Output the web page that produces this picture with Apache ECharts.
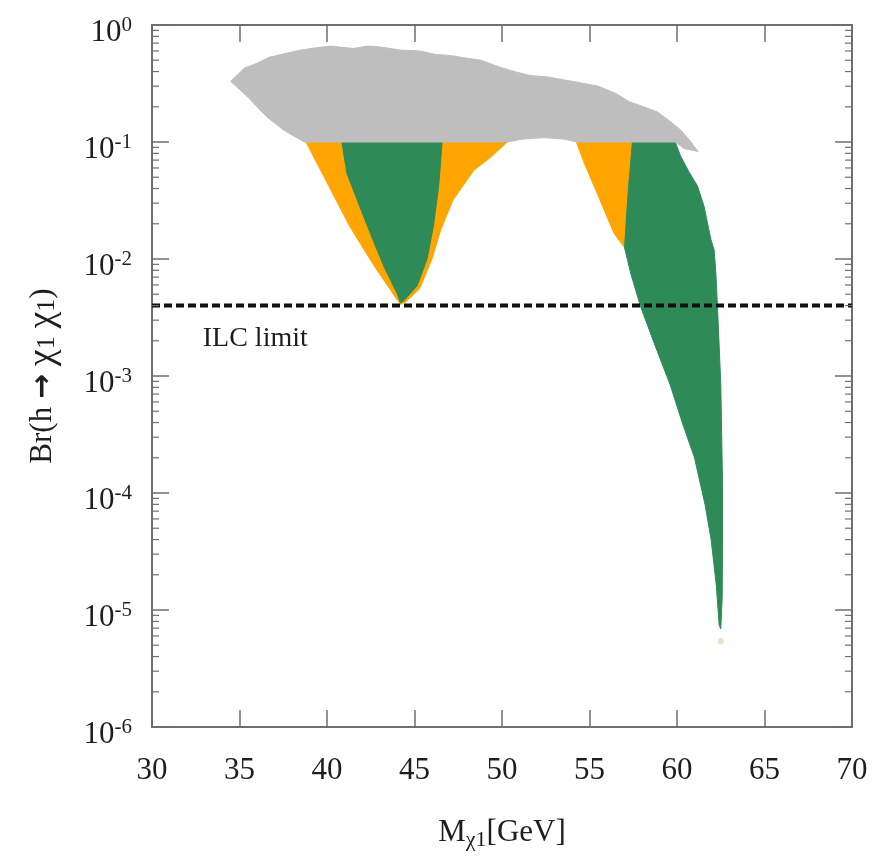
<!DOCTYPE html>
<html>
<head>
<meta charset="utf-8">
<script src="https://cdn.jsdelivr.net/npm/echarts@6/dist/echarts.min.js"></script>
<style>
  html, body { margin: 0; padding: 0; background: #fff; }
  #chart { width: 889px; height: 856px; }
</style>
</head>
<body>
<div id="chart"></div>
<script>
// Neutralino mass axis (GeV) and branching-ratio axis (log10 decades)
const massTicks = [30, 35, 40, 45, 50, 55, 60, 65, 70];
const brExponents = [-6, -5, -4, -3, -2, -1, 0];

// ILC sensitivity on Br(h -> chi1 chi1)
const ilcLimit = 4e-3;

// Outline of the grey (excluded) scan points: [M_chi1, Br]
const grayRegion = [
  [34.5, 0.33], [35.3, 0.43], [36.0, 0.47], [36.7, 0.53], [37.6, 0.57], [38.5, 0.61],
  [39.4, 0.64], [40.2, 0.66], [41.5, 0.63], [42.3, 0.66], [43.0, 0.65], [44.2, 0.61],
  [45.3, 0.60], [46.2, 0.56], [47.0, 0.55], [48.0, 0.52], [48.8, 0.50], [49.8, 0.44],
  [50.7, 0.40], [51.6, 0.37], [52.6, 0.36], [54.0, 0.33], [55.5, 0.30], [56.5, 0.26],
  [57.3, 0.22], [58.1, 0.20], [58.9, 0.18], [59.6, 0.15], [60.2, 0.127], [60.8, 0.10],
  [61.2, 0.083], [60.4, 0.088], [59.9, 0.1],
  [54.3, 0.1], [53.5, 0.106], [52.4, 0.109], [51.2, 0.106], [50.3, 0.1],
  [38.7, 0.1], [37.5, 0.127], [36.5, 0.167], [35.5, 0.24], [34.5, 0.33]
];

// Orange points around the Z-pole funnel
const orangeFunnelZ = [
  [38.8, 0.1], [50.3, 0.1], [49.4, 0.075], [48.4, 0.0575], [47.2, 0.032],
  [46.5, 0.0178], [46.0, 0.0100], [45.3, 0.0056], [44.5, 0.0043], [44.2, 0.0041],
  [44.0, 0.0045], [42.7, 0.0087], [41.3, 0.019], [40.0, 0.045], [38.8, 0.1]
];

// Green points inside the Z-pole funnel
const greenFunnelZ = [
  [40.85, 0.1], [46.58, 0.1], [46.38, 0.0417], [46.08, 0.019], [45.72, 0.0100],
  [45.15, 0.0059], [44.37, 0.00437], [44.2, 0.0042], [44.0, 0.0051], [43.24, 0.0087],
  [42.47, 0.0166], [41.71, 0.0324], [41.14, 0.0537], [40.85, 0.1]
];

// Orange points on the low side of the Higgs-pole funnel
const orangeFunnelH = [
  [54.25, 0.1], [57.45, 0.1], [57.2, 0.036], [57.0, 0.0125], [56.4, 0.0166],
  [55.44, 0.0363], [54.7, 0.066], [54.25, 0.1]
];

// Green points of the Higgs-pole funnel
const greenFunnelH = [
  [57.45, 0.1], [59.9, 0.1], [60.2, 0.076], [60.7, 0.055], [61.17, 0.042], [61.55, 0.028],
  [61.93, 0.0148], [62.12, 0.012], [62.22, 0.0076], [62.31, 0.0040], [62.5, 8.7e-4],
  [62.6, 1.23e-4], [62.6, 3.3e-5], [62.58, 1.23e-5], [62.5, 6.9e-6], [62.41, 7.4e-6],
  [62.25, 1.6e-5], [61.95, 4.0e-5], [61.6, 8.0e-5], [61.0, 2.0e-4], [60.3, 4.0e-4],
  [59.6, 8.5e-4], [58.7, 1.9e-3], [57.9, 4.0e-3], [57.35, 7.6e-3], [57.0, 0.0125],
  [57.2, 0.036], [57.45, 0.1]
];

// Isolated scan point below the funnel tip
const strayPoints = [[62.5, 5.4e-6]];

const SERIF = '"Liberation Serif", "DejaVu Serif", serif';
const AXIS_COLOR = '#6f6f6f';
const TEXT_COLOR = '#1e1e1e';

// log-decade minor ticks (2..9 x 10^k)
const minorTickValues = [];
for (let e = brExponents[0]; e < brExponents[brExponents.length - 1]; e++) {
  for (let m = 2; m <= 9; m++) minorTickValues.push(m * Math.pow(10, e));
}

function regionSeries(name, pts, color, z) {
  return {
    type: 'custom',
    name: name,
    xAxisIndex: 0,
    yAxisIndex: 0,
    data: pts,
    silent: true,
    animation: false,
    z: z,
    renderItem: function (params, api) {
      if (params.dataIndex !== 0) return null;
      return {
        type: 'polygon',
        shape: { points: pts.map(function (p) { return api.coord(p); }) },
        style: { fill: color, stroke: color, lineWidth: 1 }
      };
    }
  };
}

const chart = echarts.init(document.getElementById('chart'), null, { renderer: 'canvas' });

const yAxisBase = {
  type: 'log', logBase: 10,
  min: Math.pow(10, brExponents[0]), max: Math.pow(10, brExponents[brExponents.length - 1]),
  splitNumber: brExponents.length - 1,
  axisLine: { show: true, lineStyle: { color: AXIS_COLOR, width: 2 } },
  axisTick: { show: true, inside: true, length: 17, lineStyle: { color: AXIS_COLOR, width: 1.5 } },
  splitLine: { show: false },
  minorTick: { show: false }
};

const option = {
  backgroundColor: '#ffffff',
  animation: false,
  grid: { left: 152, right: 37, top: 25, bottom: 129 },
  xAxis: [
    {
      type: 'value', min: massTicks[0], max: massTicks[massTicks.length - 1], interval: 5,
      position: 'bottom',
      name: '{a|M}{c|χ1}{a|[GeV]}',
      nameLocation: 'middle', nameGap: 88,
      nameTextStyle: {
        rich: {
          a: { fontFamily: SERIF, fontSize: 31, color: TEXT_COLOR },
          c: { fontFamily: SERIF, fontSize: 22, color: TEXT_COLOR, padding: [14, 0, 0, 0] }
        }
      },
      axisLine: { show: true, lineStyle: { color: AXIS_COLOR, width: 2 } },
      axisTick: { show: true, inside: true, length: 17, lineStyle: { color: AXIS_COLOR, width: 1.5 } },
      axisLabel: {
        margin: 28, fontFamily: SERIF, fontSize: 31, color: TEXT_COLOR,
        formatter: function (v) { return massTicks.indexOf(v) >= 0 ? String(v) : ''; }
      },
      splitLine: { show: false }
    },
    {
      type: 'value', min: massTicks[0], max: massTicks[massTicks.length - 1], interval: 5,
      position: 'top',
      axisLine: { show: true, lineStyle: { color: AXIS_COLOR, width: 2 } },
      axisTick: { show: true, inside: true, length: 17, lineStyle: { color: AXIS_COLOR, width: 1.5 } },
      axisLabel: { show: false },
      splitLine: { show: false }
    }
  ],
  yAxis: [
    Object.assign({}, yAxisBase, {
      position: 'left',
      name: '{a|Br(h }{r|→}{a| }{x|χ}{s|1}{a| }{x|χ}{s|1}{a|)}',
      nameLocation: 'middle', nameGap: 90,
      nameTextStyle: {
        rich: {
          a: { fontFamily: SERIF, fontSize: 31, color: TEXT_COLOR },
          r: { fontFamily: '"DejaVu Sans", sans-serif', fontSize: 30, fontWeight: 'bold', color: TEXT_COLOR },
          x: { fontFamily: SERIF, fontSize: 38, color: TEXT_COLOR },
          s: { fontFamily: SERIF, fontSize: 26, color: TEXT_COLOR, padding: [8, 0, 0, 0] }
        }
      },
      axisLabel: {
        margin: 20,
        formatter: function (v) {
          const e = Math.round(Math.log10(v));
          return '{b|10}{s|' + e + '}';
        },
        rich: {
          b: { fontFamily: SERIF, fontSize: 31, color: TEXT_COLOR, padding: [16, 0, 0, 0] },
          s: { fontFamily: SERIF, fontSize: 21, color: TEXT_COLOR }
        }
      }
    }),
    Object.assign({}, yAxisBase, {
      position: 'right',
      axisLabel: { show: false }
    })
  ],
  series: [
    regionSeries('excluded', grayRegion, '#bebebe', 4),
    regionSeries('orange Z funnel', orangeFunnelZ, '#ffa500', 2),
    regionSeries('green Z funnel', greenFunnelZ, '#2e8b57', 3),
    regionSeries('orange h funnel', orangeFunnelH, '#ffa500', 2),
    regionSeries('green h funnel', greenFunnelH, '#2e8b57', 3),
    {
      type: 'scatter', name: 'stray', data: strayPoints, symbolSize: 6,
      itemStyle: { color: '#e4d7b5' }, silent: true, z: 3
    },
    {
      type: 'line', name: 'ILC limit',
      data: [[massTicks[0], ilcLimit], [massTicks[massTicks.length - 1], ilcLimit]],
      symbol: 'none', silent: true, z: 6,
      lineStyle: { color: '#111111', width: 4, type: [8, 4] }
    },
    {
      type: 'custom', name: 'ILC label', data: [[massTicks[0], ilcLimit]], silent: true, z: 6,
      renderItem: function (params, api) {
        const p = api.coord([32.9, 2.1e-3]);
        return {
          type: 'text',
          x: p[0], y: p[1],
          style: {
            text: 'ILC limit', fill: TEXT_COLOR, font: '28px ' + SERIF,
            align: 'left', verticalAlign: 'middle'
          }
        };
      }
    },
    {
      // log-decade minor ticks on the left and right frame
      type: 'custom', name: 'minor ticks', data: minorTickValues.map(function (v) { return [massTicks[0], v]; }),
      silent: true, z: 7,
      renderItem: function (params, api) {
        const v = api.value(1);
        const l = api.coord([massTicks[0], v]);
        const r = api.coord([massTicks[massTicks.length - 1], v]);
        const st = { stroke: AXIS_COLOR, lineWidth: 1.2 };
        return {
          type: 'group',
          children: [
            { type: 'line', shape: { x1: l[0], y1: l[1], x2: l[0] + 7, y2: l[1] }, style: st },
            { type: 'line', shape: { x1: r[0] - 7, y1: r[1], x2: r[0], y2: r[1] }, style: st }
          ]
        };
      }
    }
  ]
};

chart.setOption(option);
</script>
</body>
</html>
